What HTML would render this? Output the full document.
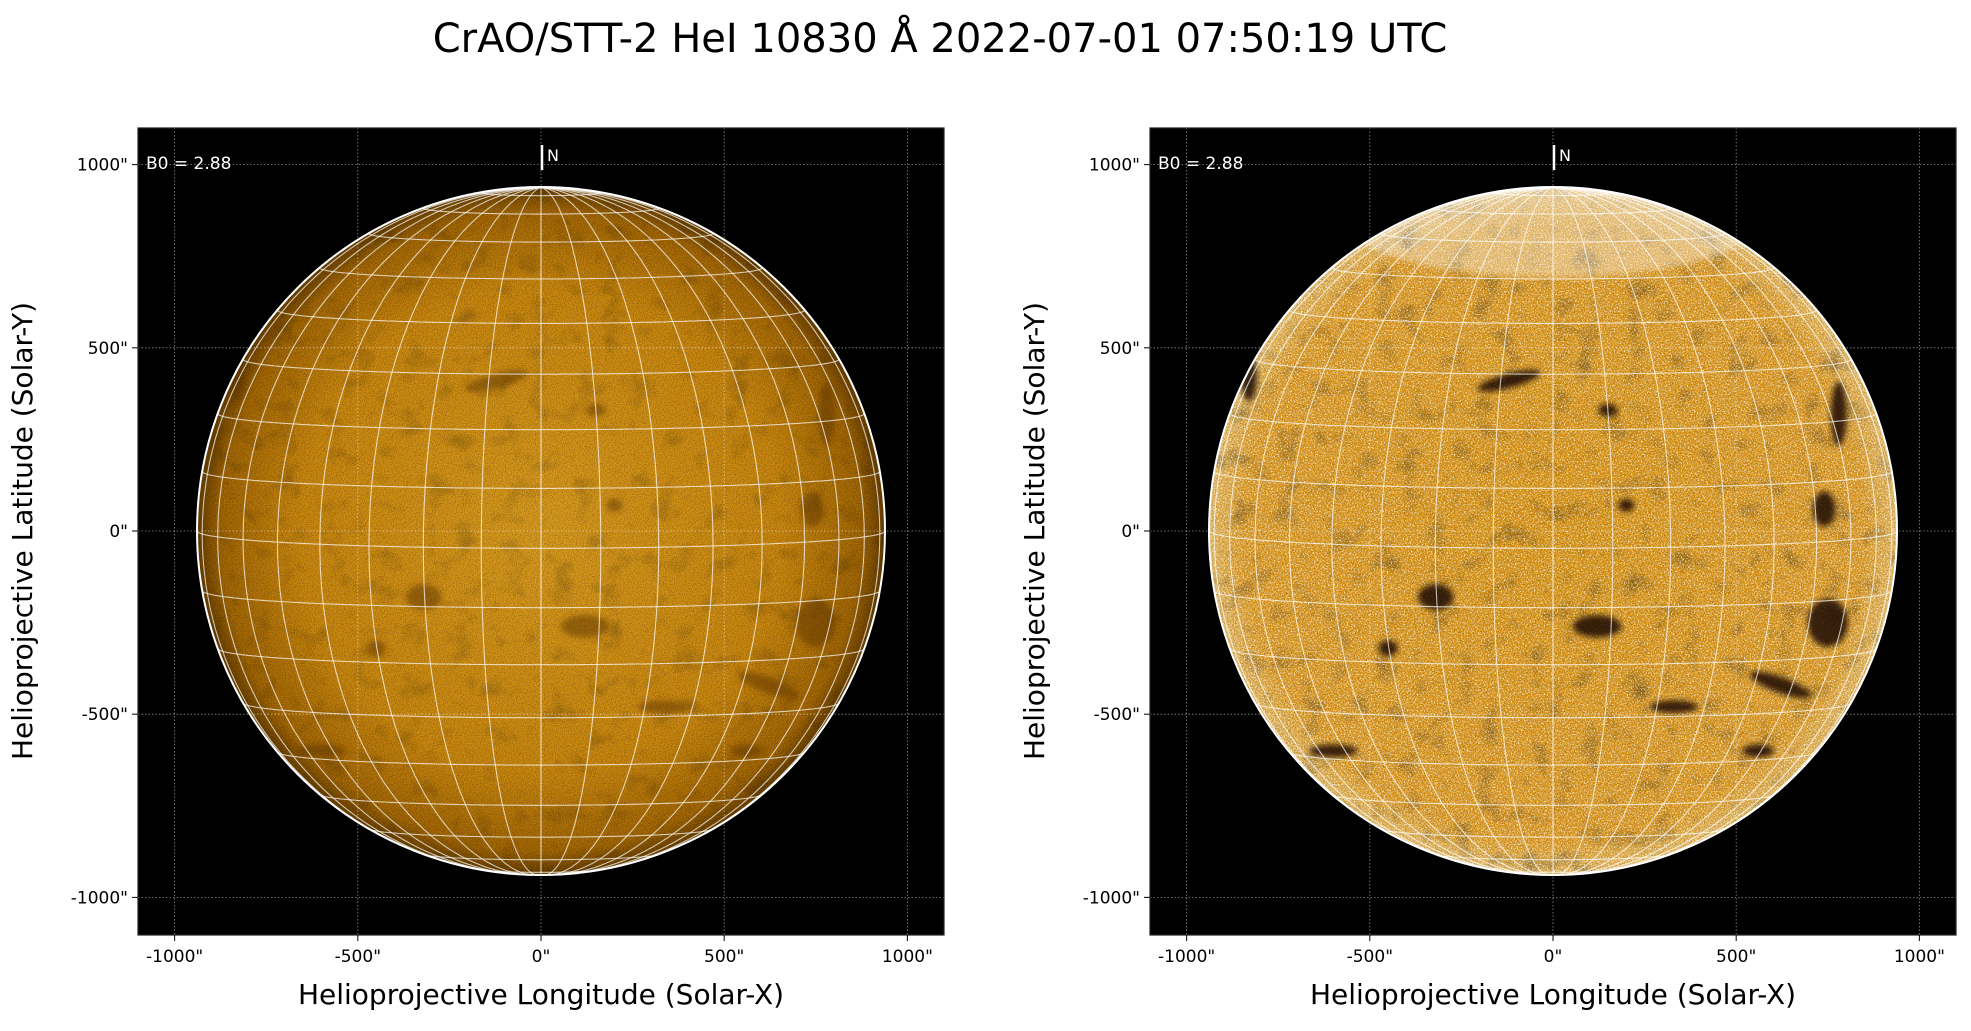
<!DOCTYPE html>
<html><head><meta charset="utf-8"><style>
html,body{margin:0;padding:0;background:#fff;}
body{width:1971px;height:1026px;overflow:hidden;font-family:"Liberation Sans","DejaVu Sans",sans-serif;}
</style></head><body>
<svg id="s" width="1971" height="1026" xmlns="http://www.w3.org/2000/svg" font-family="DejaVu Sans, Liberation Sans, sans-serif">
<defs>
<filter id="n1" x="0" y="0" width="100%" height="100%">
<feTurbulence type="fractalNoise" baseFrequency="0.9" numOctaves="2" seed="3"/>
<feColorMatrix type="matrix" values="0 0 0 0 0  0 0 0 0 0  0 0 0 0 0  1.2 0 0 0 -0.45"/>
</filter>
<filter id="n2" x="0" y="0" width="100%" height="100%">
<feTurbulence type="fractalNoise" baseFrequency="0.7" numOctaves="2" seed="7"/>
<feColorMatrix type="matrix" values="0 0 0 0 1  0 0 0 0 1  0 0 0 0 1  3 0 0 0 -1.45"/>
</filter>
<filter id="n3" x="0" y="0" width="100%" height="100%">
<feTurbulence type="fractalNoise" baseFrequency="0.04" numOctaves="3" seed="11"/>
<feColorMatrix type="matrix" values="0 0 0 0 0  0 0 0 0 0  0 0 0 0 0  2 0 0 0 -1.1"/>
</filter>
<filter id="bl"><feGaussianBlur stdDeviation="3"/></filter>
<radialGradient id="g1"><stop offset="0" stop-color="#e0a020"/><stop offset="0.7" stop-color="#d08c10"/><stop offset="0.93" stop-color="#a86a05"/><stop offset="1" stop-color="#6a4000"/></radialGradient>
<radialGradient id="g2"><stop offset="0" stop-color="#e49a10"/><stop offset="0.9" stop-color="#e8a020"/><stop offset="1" stop-color="#f0c060"/></radialGradient>
<clipPath id="c1"><circle cx="541" cy="531" r="344"/></clipPath>
<clipPath id="c2"><circle cx="1553" cy="531" r="344"/></clipPath>
<clipPath id="a1"><rect x="138" y="128" width="806" height="807"/></clipPath>
<clipPath id="a2"><rect x="1150" y="128" width="806" height="807"/></clipPath>
</defs>
<text x="940" y="52" font-size="40" text-anchor="middle" fill="#000">CrAO/STT-2 HeI 10830 Å 2022-07-01 07:50:19 UTC</text>
<g id="p1"></g>
<g id="p2"></g>
</svg>
<script>
var S=document.getElementById('s');var NS='http://www.w3.org/2000/svg';
function el(p,t,a){var e=document.createElementNS(NS,t);for(var k in a)e.setAttribute(k,a[k]);p.appendChild(e);return e;}
var spots=[[-120,410,40,9,-15],[-320,-180,22,16,0],[120,-260,30,14,0],[-450,-320,12,10,0],[740,60,14,22,0],[620,-420,40,10,20],[780,320,10,40,0],[-830,420,10,30,0],[750,-250,25,30,0],[330,-480,30,8,0],[560,-600,20,8,0],[-600,-600,30,8,0],[150,330,12,8,0],[200,70,10,8,0]];
function panel(gid,L,idx){
 var g=document.getElementById(gid);var cx=L+403,cy=531,R=344,sc=806/2200;
 el(g,'rect',{x:L,y:128,width:806,height:807,fill:'#000'});
 var cl='c'+idx;
 var d=el(g,'g',{'clip-path':'url(#'+cl+')'});
 el(d,'circle',{cx:cx,cy:cy,r:R,fill:'url(#g'+idx+')'});
 el(d,'rect',{x:cx-R,y:cy-R,width:2*R,height:2*R,filter:'url(#n3)',opacity:idx==1?0.25:0.4});
 el(d,'rect',{x:cx-R,y:cy-R,width:2*R,height:2*R,filter:'url(#n1)',opacity:0.6});
 if(idx==2){el(d,'rect',{x:cx-R,y:cy-R,width:2*R,height:2*R,filter:'url(#n2)',opacity:0.9});
  el(d,'ellipse',{cx:cx,cy:cy-R+40,rx:200,ry:50,fill:'#fff',opacity:0.35,filter:'url(#bl)'});}
 var sg=el(d,'g',{filter:'url(#bl)'});
 spots.forEach(function(s){el(sg,'ellipse',{cx:cx+s[0]*sc,cy:cy-s[1]*sc,rx:s[2]*sc*2.2,ry:s[3]*sc*2.2,fill:idx==1?'#5a3000':'#100800',opacity:idx==1?0.5:0.8,transform:'rotate('+s[4]+' '+(cx+s[0]*sc)+' '+(cy-s[1]*sc)+')'});});
 var B=2.88*Math.PI/180,gr=el(g,'g',{stroke:'#fff','stroke-opacity':0.7,'stroke-width':1.1,fill:'none'});
 function pt(la,lo){la*=Math.PI/180;lo*=Math.PI/180;var x=Math.cos(la)*Math.sin(lo),y=Math.sin(la)*Math.cos(B)-Math.cos(la)*Math.cos(lo)*Math.sin(B),z=Math.cos(la)*Math.cos(lo)*Math.cos(B)+Math.sin(la)*Math.sin(B);return [cx+R*x,cy-R*y,z];}
 for(var lo=-90;lo<=90;lo+=10){var s='',st=true;for(var la=-90;la<=90;la+=1){var p=pt(la,lo);if(p[2]<0){st=true;continue;}s+=(st?'M':'L')+p[0].toFixed(1)+' '+p[1].toFixed(1);st=false;}el(gr,'path',{d:s});}
 for(var la=-80;la<=80;la+=10){var s='',st=true;for(var lo=-100;lo<=100;lo+=1){var p=pt(la,lo);if(p[2]<0){st=true;continue;}s+=(st?'M':'L')+p[0].toFixed(1)+' '+p[1].toFixed(1);st=false;}el(gr,'path',{d:s});}
 el(g,'circle',{cx:cx,cy:cy,r:R,fill:'none',stroke:'#fff','stroke-width':2});
 var ag=el(g,'g',{'clip-path':'url(#a'+idx+')',stroke:'#fff','stroke-opacity':0.55,'stroke-width':0.8,'stroke-dasharray':'1.5,2'});
 for(var v=-1000;v<=1000;v+=500){el(ag,'line',{x1:cx+v*sc,y1:128,x2:cx+v*sc,y2:935});el(ag,'line',{x1:L,y1:cy-v*sc,x2:L+806,y2:cy-v*sc});}
 el(g,'rect',{x:L,y:128,width:806,height:807,fill:'none',stroke:'#222','stroke-width':1.2});
 for(var v=-1000;v<=1000;v+=500){var lab=v+'"';
  el(g,'line',{x1:cx+v*sc,y1:935,x2:cx+v*sc,y2:941,stroke:'#000'});
  var t=el(g,'text',{x:cx+v*sc,y:962,'font-size':17,'text-anchor':'middle',fill:'#000'});t.textContent=lab;
  el(g,'line',{x1:L-6,y1:cy-v*sc,x2:L,y2:cy-v*sc,stroke:'#000'});
  t=el(g,'text',{x:L-10,y:cy-v*sc+6,'font-size':17,'text-anchor':'end',fill:'#000'});t.textContent=lab;}
 var t=el(g,'text',{x:cx,y:1004,'font-size':28,'text-anchor':'middle',fill:'#000'});t.textContent='Helioprojective Longitude (Solar-X)';
 t=el(g,'text',{x:0,y:0,'font-size':28,'text-anchor':'middle',fill:'#000',transform:'translate('+(L-106)+' '+cy+') rotate(-90)'});t.textContent='Helioprojective Latitude (Solar-Y)';
 t=el(g,'text',{x:L+8,y:169,'font-size':17,fill:'#fff'});t.textContent='B0 = 2.88';
 el(g,'line',{x1:cx+1,y1:145,x2:cx+1,y2:170,stroke:'#fff','stroke-width':2.5});
 t=el(g,'text',{x:cx+6,y:161,'font-size':16,fill:'#fff'});t.textContent='N';
}
panel('p1',138,1);panel('p2',1150,2);
</script>
</body></html>
